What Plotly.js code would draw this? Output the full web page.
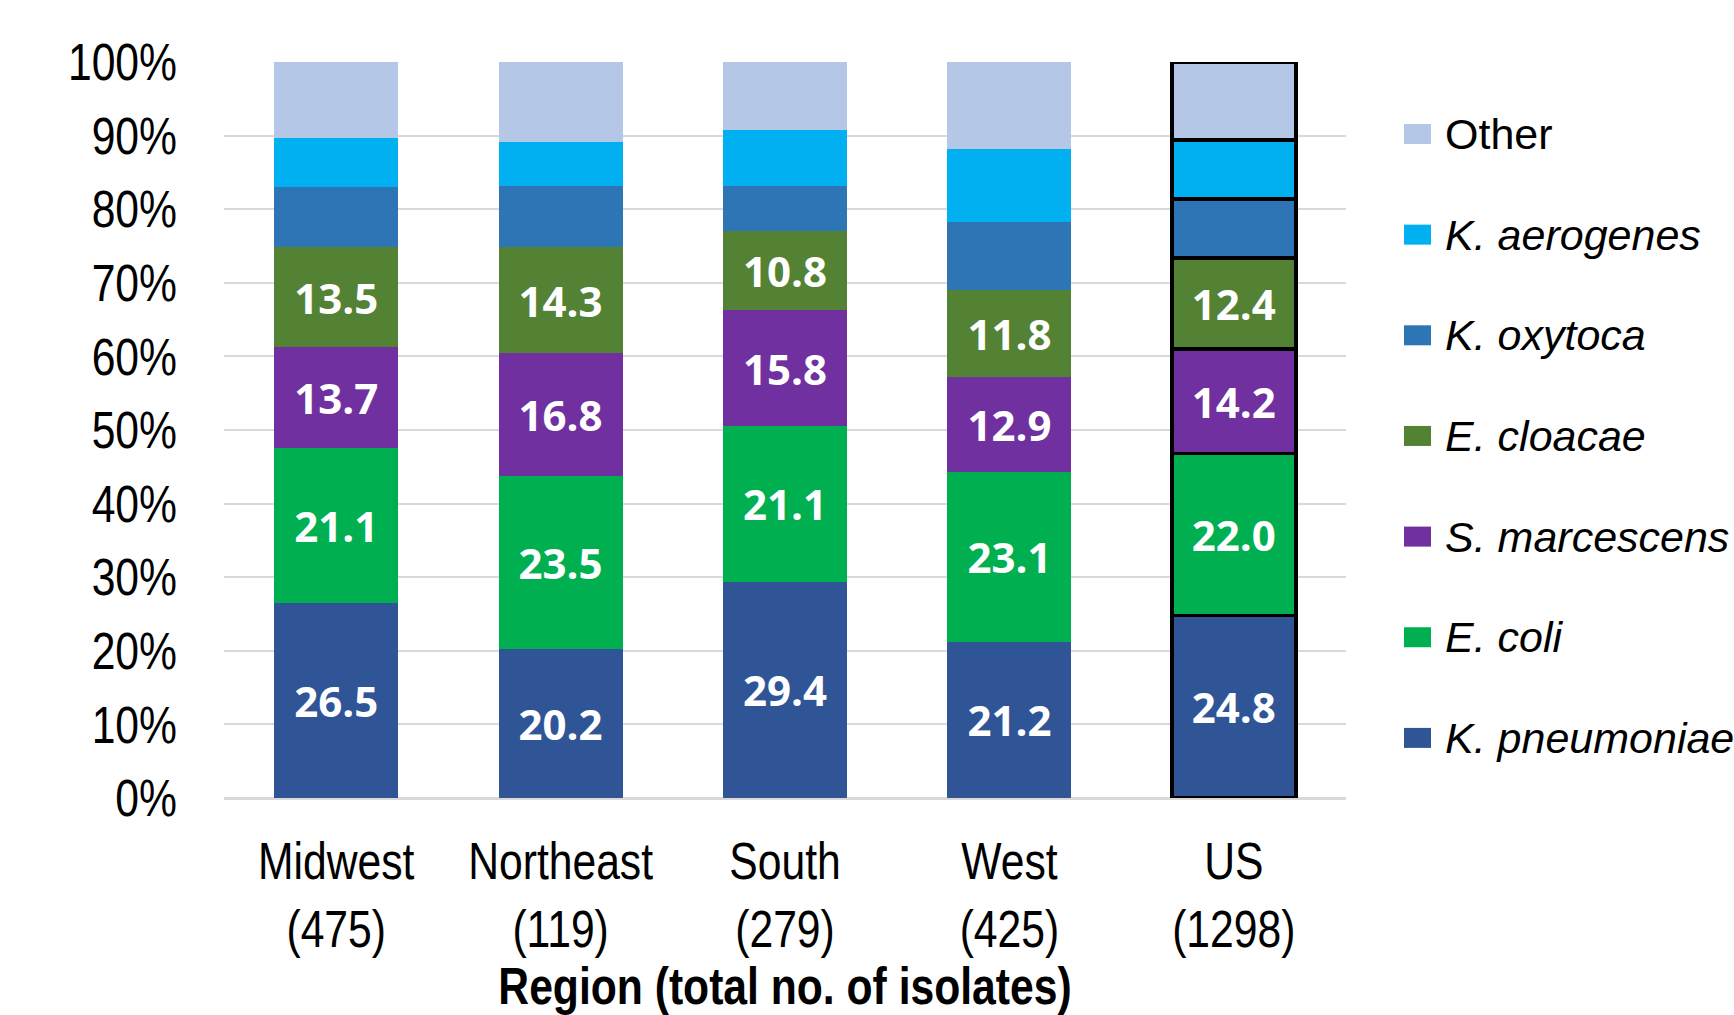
<!DOCTYPE html>
<html>
<head>
<meta charset="utf-8">
<script src="https://cdn.plot.ly/plotly-3.0.1.min.js"></script>
<style>
  html, body { margin: 0; padding: 0; background: #ffffff; }
  #chart { width: 1734px; height: 1015px; }
</style>
</head>
<body>
<div id="chart"></div>
<script>
// Regions and number of isolates per region
const categories = ['Midwest', 'Northeast', 'South', 'West', 'US'];
const isolates = [475, 119, 279, 425, 1298];

// Percent axis ticks
const percentTicks = [0, 10, 20, 30, 40, 50, 60, 70, 80, 90, 100];

// Species share of isolates (%), bottom to top of each stack
const seriesNames = ['K. pneumoniae', 'E. coli', 'S. marcescens', 'E. cloacae', 'K. oxytoca', 'K. aerogenes', 'Other'];
const kPneumoniae = [26.5, 20.2, 29.4, 21.2, 24.8];
const eColi       = [21.1, 23.5, 21.1, 23.1, 22.0];
const sMarcescens = [13.7, 16.8, 15.8, 12.9, 14.2];
const eCloacae    = [13.5, 14.3, 10.8, 11.8, 12.4];
const kOxytoca    = [8.2, 8.4, 6.1, 9.2, 8.0];
const kAerogenes  = [6.7, 5.9, 7.5, 10.0, 8.0];
const other       = [10.3, 10.9, 9.3, 11.8, 10.6];

const seriesValues = [kPneumoniae, eColi, sMarcescens, eCloacae, kOxytoca, kAerogenes, other];
const seriesColors = ['#2F5597', '#00B050', '#7030A0', '#548235', '#2E75B6', '#00B0F0', '#B4C7E7'];
const labelledSeries = [true, true, true, true, false, false, false];
const italicNames = [true, true, true, true, true, true, false];

const axisFont = '"Liberation Sans", Arial, sans-serif';
const legendFont = '"Liberation Sans", Arial, sans-serif';
const labelFont = '"Open Sans", "Noto Sans", sans-serif';

// The national total is outlined in black
const outlineWidths = categories.map(c => (c === 'US' ? 3.5 : 0));

const traces = seriesValues.map((vals, i) => ({
  type: 'bar',
  name: seriesNames[i],
  x: categories,
  y: vals,
  marker: {
    color: seriesColors[i],
    line: { color: '#000000', width: outlineWidths }
  },
  text: labelledSeries[i] ? vals.map(v => v.toFixed(1)) : undefined,
  textposition: labelledSeries[i] ? 'inside' : 'none',
  insidetextanchor: 'middle',
  textangle: 0,
  textfont: { family: labelFont, size: 42, color: '#ffffff', weight: 700 },
  hoverinfo: 'skip',
  showlegend: false
}));

// Legend drawn as swatches + labels to the right of the plot, top entry = top of stack
const plotLeft = 224, plotRight = 1346, plotTop = 62, plotBottom = 798;
const pw = plotRight - plotLeft, ph = plotBottom - plotTop;
const px = x => (x - plotLeft) / pw;
const py = y => (plotBottom - y) / ph;

const shapes = [];
const annotations = [];
const legendTop = 134, legendStep = 100.65;
const legendOrder = seriesNames.map((_, i) => i).reverse();
legendOrder.forEach((idx, row) => {
  const yc = legendTop + row * legendStep;
  shapes.push({
    type: 'rect', xref: 'paper', yref: 'paper',
    x0: px(1404), x1: px(1431), y0: py(yc + 10), y1: py(yc - 10),
    fillcolor: seriesColors[idx], line: { width: 0 }
  });
  annotations.push({
    xref: 'paper', yref: 'paper', x: px(1443), y: py(yc),
    xanchor: 'left', yanchor: 'middle', showarrow: false,
    text: italicNames[idx] ? '<i>' + seriesNames[idx] + '</i>' : seriesNames[idx],
    font: { family: legendFont, size: 43, color: '#000000' }
  });
});

const layout = {
  width: 1734,
  height: 1015,
  margin: { l: plotLeft, r: 1734 - plotRight, t: plotTop, b: 1015 - plotBottom, pad: 0 },
  paper_bgcolor: '#ffffff',
  plot_bgcolor: '#ffffff',
  barmode: 'stack',
  bargap: 0.447,
  showlegend: false,
  hovermode: false,
  xaxis: {
    type: 'category',
    tickvals: categories,
    ticktext: categories.map((c, i) => c + '<br>(' + isolates[i] + ')'),
    tickfont: { family: axisFont, size: 52, color: '#000000' },
    ticks: '',
    ticklabelstandoff: 28,
    showline: false,
    showgrid: false,
    automargin: false,
    title: {
      text: '<b>Region (total no. of isolates)</b>',
      font: { family: axisFont, size: 52, color: '#000000' },
      standoff: 17
    }
  },
  yaxis: {
    range: [0, 100],
    tickvals: percentTicks,
    ticktext: percentTicks.map(v => v + '%'),
    tickfont: { family: axisFont, size: 52, color: '#000000' },
    ticks: '',
    ticklabelstandoff: 46,
    showgrid: true,
    gridcolor: '#d9d9d9',
    gridwidth: 2,
    zeroline: true,
    zerolinecolor: '#d9d9d9',
    zerolinewidth: 3,
    showline: false,
    automargin: false
  },
  shapes: shapes,
  annotations: annotations
};

// Axis texts are set in a narrow face: squeeze each line horizontally
function condenseAxisText(gd, ratio) {
  gd.querySelectorAll('.xtick text, .ytick text, .xtitle').forEach(t => {
    const lines = t.querySelectorAll('tspan.line');
    const targets = lines.length ? Array.from(lines) : [t];
    targets.forEach(el => {
      const w = el.getComputedTextLength();
      el.setAttribute('textLength', (w * ratio).toFixed(2));
      el.setAttribute('lengthAdjust', 'spacingAndGlyphs');
    });
  });
}

Plotly.newPlot('chart', traces, layout, { displayModeBar: false, staticPlot: true })
  .then(gd => condenseAxisText(gd, 0.82));
</script>
</body>
</html>
